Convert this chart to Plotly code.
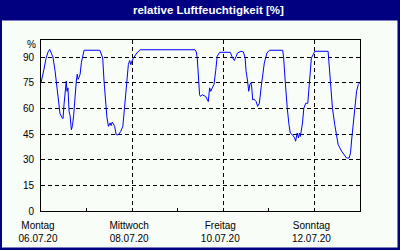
import plotly.graph_objects as go
import pandas as pd

# Hours since Monday 06.07.20 00:00 and relative humidity [%]
hours = [0, 0.5, 1.6, 2.6, 3.7, 4.6, 5.3, 6.3, 7.4, 8.1, 8.7, 9.3, 10, 11.1, 11.6, 12.1, 12.7, 13.3,
         13.7, 14.2, 14.8, 15.3, 16, 16.6, 17.2, 17.9, 18.6, 19.1, 19.5, 20, 20.6, 21.3, 21.9, 22.7,
         31, 31.6, 32.5, 33.2, 33.8, 34.7, 35.5, 36.4, 36.9, 37.5, 38.1, 38.8, 39.6, 40.8, 42, 43.1,
         43.8, 44.8, 46, 46.7, 47.3, 47.8, 48.7, 50.5, 52.2,
         81.1, 81.8, 82.3, 82.8, 83.5, 84, 84.9, 86.7, 87.6, 88.1, 88.8, 89.4, 90.2, 91.1, 92, 92.8, 94.1,
         99.7, 100.7, 101.8, 102.8, 103.5, 105.3, 106.6, 107.5, 108, 108.8, 109.4, 110, 110.6, 111, 111.5,
         112.1, 113.3, 114.1, 115, 115.9, 116.7, 117.6, 119, 120.3,
         127.3, 127.8, 128.6, 129.2, 129.7, 130.6, 131.3, 132.4, 133.6, 134.1, 134.9, 135.6, 136.1, 136.6,
         137.7, 138.4, 139.4, 140.5, 141.2, 141.9, 142.4, 143.3, 144.2,
         151.2, 151.8, 152.5, 153.5, 154.7, 155.6, 156.5, 158.3, 160, 160.9, 162.3, 163, 163.7, 164.4,
         165.3, 166.2, 167.1, 167.9]
humidity = [75, 77, 83, 89, 93, 94.5, 93, 90, 82, 75, 67, 61, 57, 54.5, 54, 62, 70, 76,
            70, 72, 58, 56, 47.5, 50, 56, 68, 76, 80, 77, 78, 80, 87, 91, 94,
            94, 92, 89.5, 76, 66, 55, 49.5, 51.5, 50, 52, 51, 49.5, 44.6, 44.6, 46.6, 49.5,
            58, 72, 85.6, 88, 85.6, 87.5, 89.5, 92.4, 94.3,
            94.3, 93, 89.5, 78, 68, 67, 68, 67, 65.5, 64, 72, 70, 72, 74, 82, 90.5, 92.8,
            92.8, 90, 88, 90.5, 92.4, 93.4, 93, 89.5, 81.7, 76, 70, 74, 75, 72, 65,
            65.5, 64, 61.2, 63, 72, 80, 86.5, 92.4, 94,
            94, 89.5, 76, 66, 60, 50.5, 45.6, 44.6, 42.7, 40.8, 45.6, 42.7, 45.6, 43.6,
            51.5, 60, 63, 63, 72, 81.7, 89.5, 91.4, 93.4,
            93.4, 85.6, 76, 60, 50.5, 44.6, 38.8, 35, 32, 31, 31, 34, 42.7, 50.5,
            60, 70, 74, 75]

start = "2020-07-06"
day_ticks = pd.date_range("2020-07-06", "2020-07-13", freq="D")
day_names = ["Montag", "", "Mittwoch", "", "Freitag", "", "Sonntag", ""]
label_ticks = ["2020-07-06", "2020-07-08", "2020-07-10", "2020-07-12"]
date_labels = ["06.07.20", "08.07.20", "10.07.20", "12.07.20"]
y_ticks = [0, 15, 30, 45, 60, 75, 90]
unit_tick = [97.3]
unit_label = ["%"]
title = "relative Luftfeuchtigkeit [%]"

times = pd.Timestamp(start) + pd.to_timedelta(hours, unit="h")

NAVY = "#000080"
BG = "#f8fdf8"
FONT = "Liberation Sans"
xr = ["2020-07-06 00:00", "2020-07-13 00:00"]

fig = go.Figure()
fig.add_trace(go.Scatter(x=times, y=humidity, mode="lines",
                         line=dict(color="#0000ff", width=1), hoverinfo="skip",
                         showlegend=False))
fig.add_trace(go.Scatter(x=[], y=[], xaxis="x2", yaxis="y2", showlegend=False))

# plot area: x 41..360, y 40..211 px
L, R, T, B = 41, 360, 40, 211
def px(x):
    return (x - L) / (R - L)
def py(y):
    return (B - y) / (B - T)

fig.update_layout(
    width=400, height=250,
    margin=dict(l=L, r=400 - R, t=T, b=250 - B, pad=0, autoexpand=False),
    paper_bgcolor=NAVY, plot_bgcolor=BG,
    font=dict(family=FONT, size=10, color="black"),
    xaxis=dict(type="date", range=xr, tickvals=list(day_ticks), ticktext=day_names,
               ticks="inside", ticklen=3, tickcolor="black", showgrid=False,
               showline=True, linecolor="black", linewidth=1, mirror=True, automargin=False,
               zeroline=False, ticklabelshift=-3, ticklabelstandoff=5),
    xaxis2=dict(type="date", range=xr, overlaying="x", side="bottom", anchor="y",
                tickvals=label_ticks, ticktext=date_labels, ticks="", automargin=False,
                showgrid=True, gridcolor="black", gridwidth=1, griddash="4px,3px",
                showline=False, zeroline=False, ticklabelshift=-3, ticklabelstandoff=20),
    yaxis=dict(range=[0, 100], tickvals=y_ticks, ticktext=[str(v) for v in y_ticks],
               ticks="", showgrid=True, gridcolor="black", gridwidth=1, griddash="4px,3px",
               showline=True, linecolor="black", linewidth=1, mirror=True, automargin=False,
               zeroline=False, ticklabelstandoff=4),
    yaxis2=dict(range=[0, 100], overlaying="y", side="left", anchor="x", automargin=False,
                tickvals=unit_tick, ticktext=unit_label, ticks="", showgrid=False,
                showline=False, zeroline=False, ticklabelstandoff=4),
    shapes=[dict(type="rect", xref="paper", yref="paper", layer="below",
                 x0=px(2), x1=px(397.5), y0=py(247.5), y1=py(20.5),
                 fillcolor=BG, line=dict(width=0))],
    annotations=[dict(text="<b>" + title + "</b>", xref="paper", yref="paper",
                      x=px(208), y=py(9.5), xanchor="center", yanchor="middle",
                      showarrow=False, font=dict(family=FONT, size=11.5, color="white"))],
)

fig.write_html("out.html")
